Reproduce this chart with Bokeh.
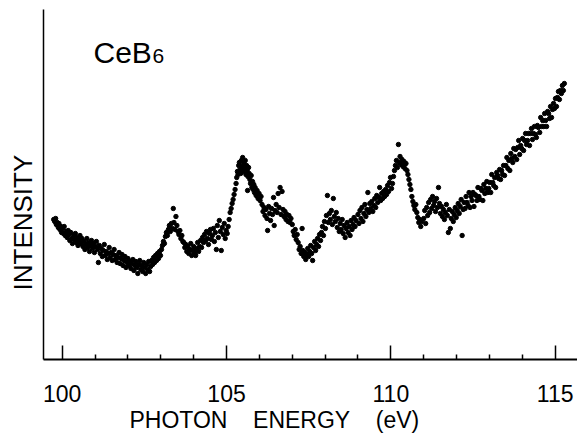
from bokeh.plotting import figure
from bokeh.models import Range1d, FixedTicker, Label, Title
from bokeh.embed import file_html
from bokeh.resources import INLINE

# (photon energy eV, intensity arb. units), segment by segment
seg_a = [(99.74, 140), (99.77, 138), (99.80, 141), (99.82, 135), (99.85, 137), (99.88, 132),
         (99.90, 136), (99.93, 130), (99.96, 133), (99.98, 127), (100.01, 131), (100.04, 126),
         (100.06, 133), (100.09, 124), (100.12, 128), (100.15, 122), (100.18, 129), (100.20, 125),
         (100.23, 119), (100.26, 127), (100.29, 121), (100.31, 116), (100.34, 124), (100.37, 120),
         (100.40, 126), (100.43, 117), (100.46, 122), (100.48, 114), (100.51, 119), (100.54, 124),
         (100.57, 116), (100.60, 121), (100.63, 113)]
seg_b = [(100.66, 118), (100.69, 110), (100.72, 115), (100.75, 121), (100.78, 112), (100.80, 117),
         (100.83, 108), (100.86, 114), (100.89, 119), (100.92, 111), (100.95, 116), (100.98, 107),
         (101.01, 113), (101.04, 118), (101.07, 110), (101.10, 97), (101.13, 114), (101.16, 106),
         (101.19, 111), (101.22, 103), (101.25, 109), (101.28, 115), (101.31, 104), (101.34, 108),
         (101.37, 100), (101.40, 106), (101.43, 112), (101.46, 102), (101.49, 107), (101.52, 99),
         (101.55, 105), (101.58, 110), (101.61, 100), (101.64, 104), (101.67, 97), (101.70, 102),
         (101.73, 107), (101.76, 96), (101.79, 101), (101.82, 105), (101.85, 94), (101.88, 99),
         (101.91, 103), (101.94, 92), (101.97, 97)]
seg_c = [(102.00, 101), (102.03, 94), (102.06, 98), (102.09, 91), (102.12, 96), (102.15, 100),
         (102.18, 89), (102.21, 94), (102.24, 98), (102.27, 92), (102.30, 86), (102.33, 95),
         (102.36, 99), (102.39, 90), (102.42, 94), (102.45, 88), (102.48, 97), (102.51, 92),
         (102.54, 86), (102.57, 95), (102.60, 90), (102.63, 98), (102.66, 88), (102.69, 93),
         (102.72, 99), (102.75, 95), (102.78, 102), (102.81, 97), (102.84, 104), (102.87, 99),
         (102.90, 106), (102.93, 101), (102.96, 108), (102.99, 104)]
seg_d = [(103.02, 110), (103.05, 114), (103.08, 118), (103.11, 116), (103.14, 123), (103.17, 127),
         (103.20, 124), (103.23, 130), (103.26, 134), (103.29, 128), (103.32, 136), (103.35, 131),
         (103.38, 151), (103.40, 137), (103.43, 130), (103.46, 143), (103.49, 134), (103.52, 128),
         (103.55, 125), (103.58, 129), (103.61, 121), (103.64, 124), (103.67, 118), (103.70, 117),
         (103.73, 112), (103.76, 115), (103.79, 108), (103.82, 113), (103.85, 106), (103.88, 110),
         (103.91, 116), (103.94, 104), (103.97, 109), (104.00, 113), (104.03, 107), (104.06, 104),
         (104.09, 111), (104.12, 117), (104.15, 108), (104.18, 113), (104.21, 119), (104.24, 112),
         (104.27, 122), (104.30, 117), (104.33, 125), (104.36, 119), (104.39, 128), (104.42, 121),
         (104.45, 115), (104.48, 126), (104.51, 130), (104.54, 120), (104.57, 124), (104.60, 131),
         (104.63, 118), (104.66, 127), (104.69, 110), (104.72, 134), (104.75, 122), (104.78, 139),
         (104.81, 128), (104.84, 109), (104.87, 132), (104.90, 125), (104.93, 136), (104.96, 121),
         (104.99, 129), (105.02, 126), (105.05, 133)]
seg_e = [(105.08, 140), (105.11, 147), (105.14, 151), (105.17, 156), (105.20, 160), (105.23, 165),
         (105.26, 170), (105.29, 176), (105.31, 182), (105.33, 188), (105.35, 185), (105.37, 194),
         (105.39, 197), (105.41, 190), (105.43, 186), (105.45, 199), (105.47, 193), (105.49, 202),
         (105.51, 188), (105.53, 196), (105.55, 191), (105.57, 199), (105.59, 185), (105.61, 194),
         (105.63, 189), (105.64, 169), (105.65, 183), (105.67, 192), (105.69, 186), (105.71, 180),
         (105.73, 176), (105.75, 184), (105.77, 172), (105.79, 178), (105.81, 170), (105.83, 175),
         (105.85, 167), (105.87, 172), (105.90, 164), (105.93, 169), (105.96, 161), (105.99, 166),
         (106.02, 159), (106.05, 163)]
seg_f = [(106.08, 155), (106.11, 148), (106.14, 152), (106.17, 144), (106.20, 150), (106.23, 141),
         (106.25, 129), (106.28, 153), (106.31, 146), (106.34, 139), (106.37, 151), (106.40, 145),
         (106.43, 162), (106.45, 134), (106.48, 149), (106.51, 155), (106.54, 147), (106.57, 166),
         (106.60, 152), (106.63, 172), (106.66, 145), (106.69, 168), (106.72, 150), (106.75, 143),
         (106.78, 148), (106.81, 140), (106.84, 145), (106.87, 138), (106.90, 144), (106.93, 137),
         (106.96, 141)]
seg_g = [(107.00, 135), (107.03, 128), (107.06, 124), (107.09, 130), (107.12, 120), (107.15, 125),
         (107.18, 117), (107.21, 110), (107.24, 113), (107.27, 106), (107.30, 131), (107.32, 109),
         (107.35, 103), (107.38, 107), (107.41, 100), (107.44, 105), (107.47, 111), (107.50, 103),
         (107.53, 108), (107.56, 114), (107.59, 106), (107.62, 99), (107.65, 112), (107.68, 118),
         (107.71, 109), (107.74, 115), (107.77, 121), (107.80, 113), (107.83, 125), (107.86, 119),
         (107.89, 127), (107.92, 133), (107.95, 124), (107.98, 138), (108.01, 131), (108.04, 144),
         (108.07, 164), (108.10, 137), (108.13, 146), (108.16, 140), (108.19, 149), (108.22, 135),
         (108.25, 161), (108.28, 143), (108.31, 138), (108.34, 147), (108.37, 132), (108.40, 141),
         (108.43, 128), (108.46, 136), (108.49, 130), (108.52, 140), (108.55, 126), (108.58, 134),
         (108.61, 122), (108.64, 131), (108.67, 137), (108.70, 127), (108.73, 133), (108.76, 124),
         (108.79, 139), (108.82, 130), (108.85, 135), (108.88, 142), (108.91, 133), (108.94, 139)]
seg_h = [(109.00, 145), (109.03, 136), (109.06, 149), (109.09, 141), (109.12, 152), (109.15, 138),
         (109.18, 146), (109.21, 155), (109.24, 143), (109.27, 150), (109.30, 167), (109.33, 147),
         (109.36, 156), (109.39, 151), (109.42, 158), (109.45, 148), (109.48, 154), (109.51, 161),
         (109.54, 152), (109.57, 164), (109.60, 157), (109.63, 162), (109.66, 172), (109.69, 159),
         (109.72, 166), (109.75, 161), (109.78, 168), (109.81, 163), (109.84, 170), (109.87, 165),
         (109.90, 174), (109.93, 168), (109.96, 177), (109.99, 182), (110.02, 171), (110.05, 176)]
seg_i = [(110.08, 183), (110.11, 189), (110.14, 194), (110.17, 199), (110.20, 192), (110.23, 215),
         (110.25, 197), (110.28, 203), (110.31, 195), (110.34, 200), (110.37, 193), (110.40, 198),
         (110.43, 191), (110.46, 196), (110.49, 189), (110.52, 185), (110.55, 180), (110.58, 175),
         (110.61, 170), (110.64, 163), (110.67, 158), (110.70, 154), (110.73, 150), (110.76, 155),
         (110.79, 147), (110.82, 142), (110.85, 137), (110.88, 140), (110.91, 133), (110.94, 138)]
seg_j = [(111.00, 141), (111.03, 149), (111.06, 136), (111.09, 152), (111.12, 144), (111.15, 157),
         (111.18, 147), (111.21, 160), (111.24, 151), (111.27, 163), (111.30, 154), (111.33, 158),
         (111.36, 148), (111.39, 161), (111.42, 152), (111.45, 172), (111.48, 156), (111.51, 146),
         (111.54, 153), (111.57, 143), (111.60, 150), (111.63, 140), (111.66, 147), (111.69, 155),
         (111.72, 144), (111.75, 127), (111.78, 150), (111.81, 131), (111.84, 141), (111.87, 148),
         (111.90, 138), (111.93, 145), (111.96, 152), (111.99, 142), (112.02, 149), (112.05, 156),
         (112.08, 146), (112.11, 153), (112.14, 160), (112.17, 124), (112.20, 150)]
seg_k = [(112.23, 157), (112.26, 151), (112.29, 163), (112.32, 157), (112.35, 154), (112.38, 167),
         (112.41, 152), (112.44, 163), (112.47, 159), (112.50, 167), (112.53, 153), (112.56, 165),
         (112.59, 164), (112.62, 159), (112.65, 172), (112.68, 163), (112.71, 160), (112.74, 171),
         (112.77, 169), (112.80, 159), (112.83, 175), (112.86, 166), (112.89, 171), (112.92, 178),
         (112.95, 167), (112.98, 171), (113.01, 177), (113.04, 167), (113.07, 185), (113.10, 177),
         (113.13, 174), (113.16, 182), (113.19, 172), (113.22, 187), (113.25, 184), (113.28, 181),
         (113.31, 190), (113.34, 180), (113.37, 189)]
seg_l = [(113.40, 185), (113.43, 194), (113.46, 184), (113.50, 194), (113.53, 202), (113.56, 191),
         (113.59, 199), (113.62, 189), (113.65, 206), (113.68, 201), (113.71, 197), (113.74, 211),
         (113.77, 203), (113.80, 210), (113.83, 200), (113.86, 212), (113.89, 219), (113.92, 205),
         (113.95, 214), (113.98, 211), (114.01, 221), (114.04, 209), (114.07, 219), (114.10, 226),
         (114.13, 215), (114.16, 219), (114.19, 226), (114.22, 214), (114.25, 226), (114.28, 231),
         (114.31, 220), (114.34, 226), (114.37, 233), (114.40, 225), (114.43, 222), (114.46, 234),
         (114.49, 232), (114.53, 227), (114.56, 242), (114.59, 233), (114.62, 239), (114.65, 233),
         (114.68, 246), (114.71, 239), (114.74, 233), (114.77, 248), (114.80, 246), (114.83, 241),
         (114.86, 253), (114.89, 242), (114.92, 250), (114.95, 256), (114.98, 251), (115.01, 261),
         (115.04, 253), (115.07, 262), (115.10, 268), (115.13, 260), (115.16, 269), (115.19, 266),
         (115.22, 274), (115.25, 269), (115.28, 276)]

segments = [seg_a, seg_b, seg_c, seg_d, seg_e, seg_f, seg_g, seg_h, seg_i, seg_j, seg_k, seg_l]
energy = [e for s in segments for e, _ in s]
intensity = [v for s in segments for _, v in s]

major_ticks = [100, 105, 110, 115]
minor_ticks = [101, 102, 103, 104, 106, 107, 108, 109, 111, 112, 113, 114]

FONT = "Liberation Sans"

p = figure(width=577, height=434, output_backend="svg", toolbar_location=None,
           x_range=Range1d(99.43, 115.68), y_range=Range1d(0, 350),
           min_border_left=43, min_border_right=0, min_border_top=9, min_border_bottom=75)
p.outline_line_color = None
p.grid.visible = False
p.background_fill_color = "white"
p.border_fill_color = "white"

p.scatter(energy, intensity, size=4.4, color="black", marker="circle")

xa = p.xaxis[0]
xa.ticker = FixedTicker(ticks=major_ticks, minor_ticks=minor_ticks)
xa.major_tick_in = 14
xa.major_tick_out = 0
xa.minor_tick_in = 5
xa.minor_tick_out = 0
xa.axis_line_width = 2
xa.axis_line_color = "black"
xa.major_tick_line_width = 1.5
xa.minor_tick_line_width = 1.5
xa.major_tick_line_color = "black"
xa.minor_tick_line_color = "black"
xa.major_label_text_font = FONT
xa.major_label_text_font_size = "23px"
xa.major_label_text_color = "black"
xa.major_label_standoff = 25

ya = p.yaxis[0]
ya.ticker = FixedTicker(ticks=[])
ya.major_tick_in = 0
ya.major_tick_out = 0
ya.minor_tick_in = 0
ya.minor_tick_out = 0
ya.major_label_standoff = 0
ya.major_tick_line_color = None
ya.minor_tick_line_color = None
ya.axis_line_width = 1.5
ya.axis_line_color = "black"

p.add_layout(Title(text="PHOTON\u00a0\u00a0\u00a0\u00a0ENERGY\u00a0\u00a0\u00a0\u00a0(eV)", align="left", offset=86,
                   vertical_align="bottom", standoff=0, text_font=FONT, text_font_size="23px",
                   text_font_style="normal", text_color="black"), "below")
p.add_layout(Title(text="INTENSITY", align="left", offset=69, vertical_align="middle",
                   standoff=10, text_font=FONT, text_font_size="26px",
                   text_font_style="normal", text_color="black"), "left")

p.add_layout(Label(x=50, y=307, x_units="screen", y_units="screen", text="CeB",
                   text_align="left", text_baseline="alphabetic",
                   text_font=FONT, text_font_size="30px", text_color="black"))
p.add_layout(Label(x=109, y=304, x_units="screen", y_units="screen", text="6",
                   text_align="left", text_baseline="alphabetic",
                   text_font=FONT, text_font_size="21px", text_color="black"))

open("out.html", "w").write(file_html(p, INLINE))
